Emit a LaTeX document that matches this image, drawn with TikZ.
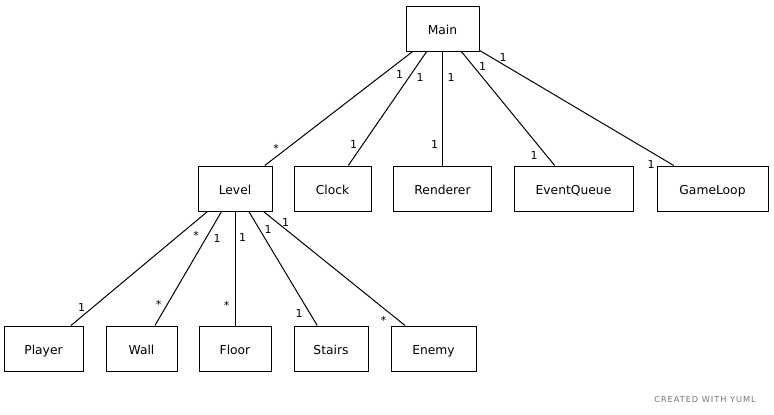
\documentclass[tikz,border=0pt]{standalone}
\usepackage{fontspec}
\setmainfont{DejaVu Sans}
\newfontfamily\yumlfont[LetterSpace=12]{DejaVu Sans}
\definecolor{yumlgray}{RGB}{112,118,128}
\usetikzlibrary{positioning}

\begin{document}
\begin{tikzpicture}[x=1pt,y=-1pt,
  classbox/.style={draw, line width=1pt, minimum height=45pt, inner sep=0pt,
    text height=11.6pt, text depth=0pt,
    font=\fontsize{12.3}{14}\selectfont},
  mult/.style={inner sep=0pt, font=\fontsize{11}{13}\selectfont},
  assoc/.style={line width=1pt}]
\useasboundingbox (0,0) rectangle (774,415);

% top class
\node[classbox, minimum width=73pt] (main) at (442.5,28.5) {Main};

% second row
\node[classbox, minimum width=74pt]  (level)      at (235,188.5)   {Level};
\node[classbox, minimum width=77pt]  (clock)      at (332.5,188.5) {Clock};
\node[classbox, minimum width=98pt]  (renderer)   at (442.5,188.5) {Renderer};
\node[classbox, minimum width=119pt] (eventqueue) at (573.5,188.5) {EventQueue};
\node[classbox, minimum width=111pt] (gameloop)   at (712.5,188.5) {GameLoop};

% third row
\node[classbox, minimum width=79pt] (player) at (43.5,348.5)  {Player};
\node[classbox, minimum width=71pt] (wall)   at (141.5,348.5) {Wall};
\node[classbox, minimum width=72pt] (floor)  at (235,348.5)   {Floor};
\node[classbox, minimum width=74pt] (stairs) at (331,348.5)   {Stairs};
\node[classbox, minimum width=85pt] (enemy)  at (433.5,348.5) {Enemy};

% associations
\foreach \src/\dst in {main/level,main/clock,main/renderer,main/eventqueue,main/gameloop,
    level/player,level/wall,level/floor,level/stairs,level/enemy} {
    \draw[assoc] (\src) -- (\dst);
}

% multiplicities
\foreach \x/\y/\m in {399.5/74/1, 276/148/*, 420/77.5/1, 353.5/144.5/1,
    451/77.5/1, 434.5/144.5/1, 482.5/66/1, 534/155.5/1, 503/57/1, 651/164/1,
    196/235.5/*, 81.5/307/1, 217/238.5/1, 158.5/304/*, 242.5/237/1, 226.5/305/*,
    268/229.5/1, 299/313/1, 285.5/222/1, 383.5/320.5/*} {
    \node[mult] at (\x,\y) {\m};
}

\node[inner sep=0pt, text=yumlgray, font=\yumlfont\fontsize{8.2}{10}\selectfont] (credit) at (705,399.7) {CREATED WITH YUML};
\end{tikzpicture}
\end{document}
